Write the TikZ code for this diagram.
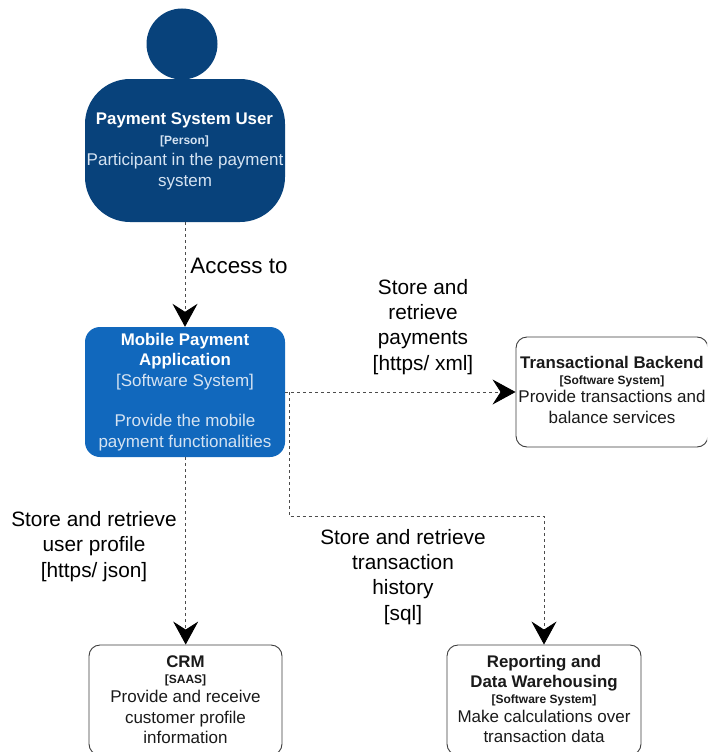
\documentclass[tikz,border=0pt]{standalone}
\usepackage{fontspec}
\setmainfont{Liberation Sans}
\usetikzlibrary{arrows.meta,positioning}
\definecolor{persona}{HTML}{08427B}
\definecolor{systema}{HTML}{1168BD}
\definecolor{desca}{HTML}{D5E3F2}
\definecolor{inka}{HTML}{1A1A1A}
\tikzset{
  boxa/.style={rectangle,rounded corners=11pt,draw=inka!85,line width=0.9pt,fill=white,inner sep=0pt,minimum width=#1,minimum height=110pt},
  ttlt/.style={inner sep=0pt,align=center,font=\fontsize{16.85}{20.4}\selectfont\bfseries},
  tagt/.style={inner sep=0pt,align=center,font=\fontsize{12}{18}\selectfont\bfseries},
  dsct/.style={inner sep=0pt,align=center,font=\fontsize{17}{20.4}\selectfont},
  reltxt/.style={text=black,align=center,inner sep=0pt,font=\fontsize{20.8}{25.2}\selectfont},
  rel/.style={draw=black!70,line width=0.9pt,dash pattern=on 3pt off 3pt,-{Stealth[length=23pt,width=25pt,inset=8pt,color=black]}},
}
\begin{document}
\begin{tikzpicture}[x=1pt,y=-1pt]
\useasboundingbox (0,0) rectangle (707,752);
\clip (0,0) rectangle (707,752);
% Person
\node[circle,fill=persona,minimum size=71pt,inner sep=0pt] (head) at (182,44) {};
\node[rectangle,rounded corners=45pt,fill=persona,minimum width=200pt,minimum height=143pt,inner sep=0pt] (user) at (185,150.5) {};
\node[ttlt,text=white] (usertitle) at (184.5,120) {Payment System User};
\node[tagt,text=desca] (usertag) at (184.5,141) {[Person]};
\node[dsct,text=desca] (userdesc) at (185,171.5) {Participant in the payment\\system};
% Mobile
\node[rectangle,rounded corners=15pt,fill=systema,minimum width=200pt,minimum height=130pt,inner sep=0pt] (mobile) at (185,392) {};
\node[ttlt,text=white] (mobiletitle) at (185,351) {Mobile Payment\\Application};
\node[dsct,text=desca] (mobiletag) at (185,382) {[Software System]};
\node[dsct,text=desca] (mobiledesc) at (185,432.5) {Provide the mobile\\payment functionalities};
% Backend
\node[boxa=192pt] (backend) at (612,392) {};
\node[ttlt,text=inka] (backendtitle) at (612,362.5) {Transactional Backend};
\node[tagt,text=inka] (backendtag) at (612,381) {[Software System]};
\node[dsct,text=inka] (backenddesc) at (612,407) {Provide transactions and\\balance services};
% CRM
\node[boxa=193pt] (crm) at (185.5,700) {};
\node[ttlt,text=inka] (crmtitle) at (185.5,661.5) {CRM};
\node[tagt,text=inka] (crmtag) at (185.5,680) {[SAAS]};
\node[dsct,text=inka] (crmdesc) at (185.5,717) {Provide and receive\\customer profile\\information};
% Reporting
\node[boxa=194pt] (report) at (544,700) {};
\node[ttlt,text=inka] (reporttitle) at (544,673) {Reporting and\\Data Warehousing};
\node[tagt,text=inka] (reporttag) at (544,700) {[Software System]};
\node[dsct,text=inka] (reportdesc) at (544,726.5) {Make calculations over\\transaction data};
% Connectors
\coordinate (bendA) at (289,392);
\coordinate (bendB) at (289,516.5);
\coordinate (bendC) at (544,516.5);
\draw[rel] (user.south) -- (mobile.north);
\draw[rel] (mobile.east) -- (backend.west);
\draw[rel] ([xshift=0.7pt]mobile.south) -- ([xshift=0.2pt]crm.north);
\draw[rel] (bendA) -- (bendB) -- (bendC) -- (report.north);
% Labels
\node[reltxt,font=\fontsize{22.4}{25.2}\selectfont] (lblaccess) at (239,265.5) {Access to};
\node[reltxt] (lblpay) at (423,327) {Store and\\retrieve\\payments\\{}[https/ xml]};
\node[reltxt] (lblprofile) at (94,546.5) {Store and retrieve\\user profile\\{}[https/ json]};
\node[reltxt] (lblhist) at (403,577) {Store and retrieve\\transaction\\history\\{}[sql]};
\end{tikzpicture}
\end{document}
